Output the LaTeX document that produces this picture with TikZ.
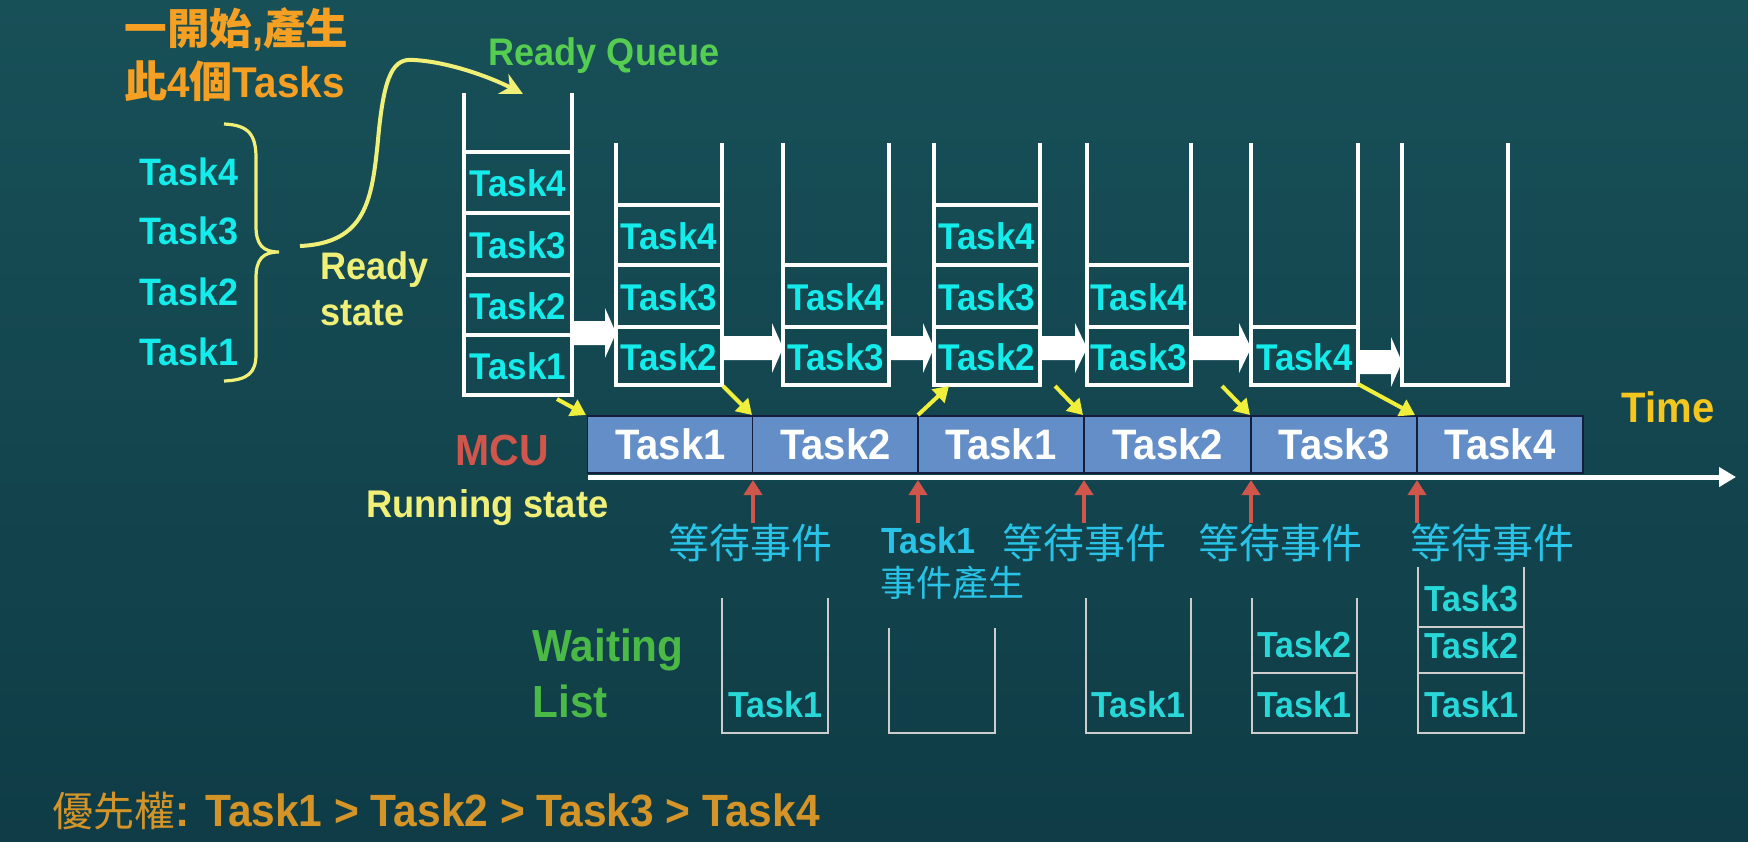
\documentclass[tikz,border=0pt]{standalone}
\usepackage{fontspec}
\setmainfont{Liberation Sans}[FakeStretch=0.94]
\newfontfamily\cjk{Noto Sans CJK TC}
\usetikzlibrary{arrows.meta}
\definecolor{bgtop}{RGB}{24,80,88}
\definecolor{bgbot}{RGB}{15,60,70}
\definecolor{cyanT}{RGB}{20,235,235}
\definecolor{wlcyan}{RGB}{40,215,215}
\definecolor{evtblue}{RGB}{40,195,230}
\definecolor{titleor}{RGB}{245,160,35}
\definecolor{prior}{RGB}{212,148,40}
\definecolor{paleyel}{RGB}{240,240,120}
\definecolor{arrowyel}{RGB}{240,240,60}
\definecolor{qgreen}{RGB}{85,205,80}
\definecolor{wgreen}{RGB}{75,185,70}
\definecolor{mcured}{RGB}{208,85,75}
\definecolor{boxblue}{RGB}{99,142,200}
\definecolor{boxedge}{RGB}{20,30,60}
\definecolor{timeyel}{RGB}{245,198,30}
\definecolor{wlgray}{RGB}{205,205,205}
\newcommand\blkarrow[4]{%
  \fill[white] (#1,{#4-12}) -- (#2,{#4-12}) -- (#2,{#4-25}) -- (#3,#4)
    -- (#2,{#4+25}) -- (#2,{#4+12}) -- (#1,{#4+12}) -- cycle;}
\begin{document}
\begin{tikzpicture}[x=0.5pt,y=-0.5pt,
  qline/.style={draw=white,line width=1.7pt},
  wline/.style={draw=wlgray,line width=1.4pt},
  qtask/.style={text=cyanT,inner sep=0,font=\bfseries\fontsize{18.6}{20}\selectfont},
  wtask/.style={text=wlcyan,inner sep=0,font=\bfseries\fontsize{18.1}{20}\selectfont},
  lefttask/.style={text=cyanT,inner sep=0,anchor=west,font=\bfseries\fontsize{19.1}{20}\selectfont},
  tlbox/.style={fill=boxblue,draw=boxedge,line width=0.7pt,minimum width=83pt,minimum height=28.5pt,inner sep=0,
     text=white,font=\bfseries\fontsize{21.3}{22}\selectfont},
  evt/.style={text=evtblue,inner sep=0,font=\cjk\fontsize{20.5}{24}\selectfont},
  yarr/.style={draw=arrowyel,line width=2pt,-{Triangle[length=7.5pt,width=9pt]}},
  redarr/.style={draw=mcured,line width=2.2pt,-{Triangle[length=7.5pt,width=9pt]}},
  axisarr/.style={draw=white,line width=2.5pt,-{Triangle[length=8.5pt,width=9.5pt]}},
  bigcurve/.style={draw=paleyel,line width=2pt,-{Stealth[length=11pt,width=11pt]}},
  lbl/.style={inner sep=0}
]
\useasboundingbox (0,0) rectangle (1748,841);
\shade[top color=bgtop,bottom color=bgbot] (0,0) rectangle (1748,841);

% ---- title and initial tasks
\node[lbl,anchor=west,text=titleor,font=\bfseries\fontsize{21.3}{24}\selectfont] (title1) at (124,29) {{\cjk 一開始},{\cjk 產生}};
\node[lbl,anchor=west,text=titleor,font=\bfseries\fontsize{21.5}{24}\selectfont] (title2) at (124,81) {{\cjk 此}4{\cjk 個}Tasks};
\node[lefttask] (l4) at (139,172) {Task4};
\node[lefttask] (l3) at (139,231) {Task3};
\node[lefttask] (l2) at (139,292) {Task2};
\node[lefttask] (l1) at (139,352) {Task1};
\draw[paleyel,line width=1.6pt] (224,124) .. controls (248,125) and (256,134) .. (256,158) -- (256,226)
   .. controls (256,245) and (263,252) .. (279,252) .. controls (263,252) and (256,259) .. (256,278)
   -- (256,354) .. controls (256,373) and (248,380) .. (224,381);
\coordinate (cstart) at (300,246);
\coordinate (cend) at (523,94);
\draw[bigcurve] (cstart) .. controls (366,243) and (372,200) .. (378,140)
   .. controls (384,72) and (394,58) .. (414,60) .. controls (450,62) and (492,78) .. (cend);
\node[lbl,anchor=west,text=paleyel,font=\bfseries\fontsize{19.2}{20}\selectfont] (rs1) at (320,270) {Ready};
\node[lbl,anchor=west,text=paleyel,font=\bfseries\fontsize{19.2}{20}\selectfont] (rs2) at (320,313) {state};
\node[lbl,text=qgreen,font=\bfseries\fontsize{19.2}{20}\selectfont] (rq) at (604,56) {Ready Queue};

% ---- ready queue stacks
\foreach \L/\R/\T/\B in {464/572/93/395, 616/722/143/385, 783/889/143/385, 934/1040/143/385,
    1087/1191/143/385, 1251/1358/143/385, 1402/1508/143/385}
  \draw[qline] (\L,\T) -- (\L,\B) -- (\R,\B) -- (\R,\T);
\foreach \n/\L/\R/\ya/\yb/\t in {
    1/464/572/152/213/Task4, 1/464/572/213/275/Task3, 1/464/572/275/335/Task2, 1/464/572/335/395/Task1,
    2/616/722/205/265/Task4, 2/616/722/265/327/Task3, 2/616/722/327/385/Task2,
    3/783/889/265/327/Task4, 3/783/889/327/385/Task3,
    4/934/1040/205/265/Task4, 4/934/1040/265/327/Task3, 4/934/1040/327/385/Task2,
    5/1087/1191/265/327/Task4, 5/1087/1191/327/385/Task3,
    6/1251/1358/327/385/Task4}{
  \draw[qline] (\L,\ya) rectangle (\R,\yb);
  \node[qtask] (q\n-\t) at ({(\L+\R)/2},{(\ya+\yb)/2+1}) {\t};
}

% ---- block arrows between queues
\blkarrow{572}{605}{616}{333}
\blkarrow{722}{772}{783}{348}
\blkarrow{889}{923}{934}{348}
\blkarrow{1040}{1075}{1087}{348}
\blkarrow{1191}{1239}{1251}{348}
\blkarrow{1358}{1391}{1402}{362}

% ---- timeline
\node[tlbox] (t1) at (670.5,444.5) {Task1};
\node[tlbox] (t2) at (835.5,444.5) {Task2};
\node[tlbox] (t3) at (1001,444.5) {Task1};
\node[tlbox] (t4) at (1167.5,444.5) {Task2};
\node[tlbox] (t5) at (1334,444.5) {Task3};
\node[tlbox] (t6) at (1500,444.5) {Task4};
\coordinate (ax0) at (588,477);
\coordinate (ax1) at (1736,477);
\draw[axisarr] (ax0) -- (ax1);
\node[lbl,text=timeyel,font=\bfseries\fontsize{21.3}{22}\selectfont] (time) at (1668,407) {Time};
\node[lbl,text=mcured,font=\bfseries\fontsize{21.8}{22}\selectfont] (mcu) at (502,450) {MCU};
\node[lbl,anchor=west,text=paleyel,font=\bfseries\fontsize{19.3}{20}\selectfont] (run) at (366,508) {Running state};

% ---- yellow arrows queue <-> cpu
\coordinate (ya1) at (557,399);  \coordinate (yb1) at (586,415);
\coordinate (ya2) at (723,386);  \coordinate (yb2) at (752,415);
\coordinate (ya3) at (918,415);  \coordinate (yb3) at (949,386);
\coordinate (ya4) at (1055,386); \coordinate (yb4) at (1083,415);
\coordinate (ya5) at (1222,386); \coordinate (yb5) at (1250,415);
\coordinate (ya6) at (1358,384); \coordinate (yb6) at (1415,415);
\foreach \i in {1,...,6} \draw[yarr] (ya\i) -- (yb\i);

% ---- red event arrows
\foreach \i/\x in {1/753,2/918,3/1084,4/1251,5/1417}{
  \coordinate (ra\i) at (\x,523);
  \coordinate (rb\i) at (\x,480);
  \draw[redarr] (ra\i) -- (rb\i);
}
\node[evt] (e1) at (750,543) {等待事件};
\node[lbl,anchor=west,text=evtblue,font=\bfseries\fontsize{18.2}{20}\selectfont] (e2a) at (881,540) {Task1};
\node[lbl,anchor=west,text=evtblue,font=\cjk\fontsize{18}{20}\selectfont] (e2b) at (880,583) {事件產生};
\node[evt] (e3) at (1084,543) {等待事件};
\node[evt] (e4) at (1280,543) {等待事件};
\node[evt] (e5) at (1492,543) {等待事件};

% ---- waiting lists
\node[lbl,anchor=west,text=wgreen,font=\bfseries\fontsize{22.5}{24}\selectfont] (wl1) at (532,650) {Waiting};
\node[lbl,anchor=west,text=wgreen,font=\bfseries\fontsize{22.5}{24}\selectfont] (wl2) at (532,701) {List};
\foreach \L/\R/\T in {722/828/598, 889/995/628, 1086/1191/598, 1252/1357/598, 1418/1524/567}
  \draw[wline] (\L,\T) -- (\L,733) -- (\R,733) -- (\R,\T);
\draw[wline] (1252,673) -- (1357,673);
\draw[wline] (1418,627) -- (1524,627);
\draw[wline] (1418,673) -- (1524,673);
\node[wtask] (w1a) at (775,705) {Task1};
\node[wtask] (w3a) at (1138.5,705) {Task1};
\node[wtask] (w4a) at (1304.5,705) {Task1};
\node[wtask] (w4b) at (1304.5,645) {Task2};
\node[wtask] (w5a) at (1471,705) {Task1};
\node[wtask] (w5b) at (1471,646) {Task2};
\node[wtask] (w5c) at (1471,599) {Task3};

% ---- priority
\node[lbl,anchor=west,text=prior,font=\bfseries\fontsize{22.6}{24}\selectfont] (prio) at (52,811)
  {{\cjk\mdseries\fontsize{20.5}{24}\selectfont 優先權}: Task1 > Task2 > Task3 > Task4};
\end{tikzpicture}
\end{document}
